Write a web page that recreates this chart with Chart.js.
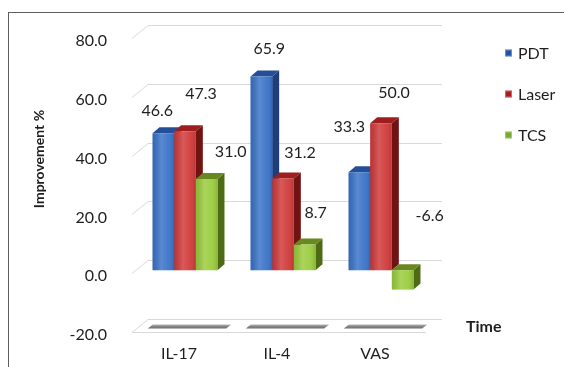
<!DOCTYPE html>
<html>
<head>
<meta charset="utf-8">
<script src="https://cdn.jsdelivr.net/npm/chart.js@4/dist/chart.umd.min.js"></script>
<style>
  html, body { margin: 0; padding: 0; background: #fff; }
  #wrap { position: relative; width: 564px; height: 367px; overflow: hidden; }
  #frame { position: absolute; left: 8px; top: 12px; width: 700px; height: 500px;
           border-left: 1.5px solid #5e5e5e; border-top: 1.5px solid #5e5e5e; }
  canvas { position: absolute; left: 0; top: 0; }
</style>
</head>
<body>
<div id="wrap">
  <div id="frame"></div>
  <canvas id="chart" width="564" height="367"></canvas>
</div>
<script>
// Improvement (%) per outcome measure and treatment
const categories = ['IL-17', 'IL-4', 'VAS'];
const seriesNames = ['PDT', 'Laser', 'TCS'];
const pdtValues = [46.6, 65.9, 33.3];
const laserValues = [47.3, 31.2, 50.0];
const tcsValues = [31.0, 8.7, -6.6];
const yMin = -20, yMax = 80, yStep = 20;

// face colours: front, side, top, legend swatch
const palette = [
  { front: '#3a73c8', side: '#1d3d7c', top: '#244f98', key: '#2154a6' },
  { front: '#d03a3a', side: '#711313', top: '#9e1d1d', key: '#a81c1c' },
  { front: '#9bcc3e', side: '#4d6b15', top: '#67891f', key: '#7aa830' }
];

// where each value label sits relative to the top of its column
const labelNudge = [
  [[-6, -22], [8, -28], [-10, -45]],
  [[16, -37], [17, -26], [13, -30]],
  [[24, -27], [11, -32], [27, -54]]
];

const FONT = 'Lato, "Open Sans", sans-serif';

const depth3d = {
  id: 'depth3d',
  beforeDatasetsDraw(chart, args, o) {
    const { ctx, chartArea: a, scales: { x, y } } = chart;
    ctx.save();
    // side wall diagonals + back wall gridlines
    ctx.strokeStyle = o.gridColor;
    ctx.lineWidth = 1;
    y.ticks.forEach(t => {
      const py = Math.round(y.getPixelForValue(t.value)) + 0.5;
      ctx.beginPath();
      ctx.moveTo(a.left + o.front[0], py + o.front[1]);
      ctx.lineTo(a.left + o.back[0], py + o.back[1]);
      ctx.lineTo(a.right + o.back[0], py + o.back[1]);
      ctx.stroke();
    });
    // floor front edge
    const fy = Math.round(y.getPixelForValue(y.min)) + 0.5;
    ctx.beginPath();
    ctx.moveTo(a.left + o.front[0], fy + o.front[1]);
    ctx.lineTo(a.right + o.front[0], fy + o.front[1]);
    ctx.stroke();

    // floor pads under each category
    const band = x.width / categories.length;
    categories.forEach((c, i) => {
      const cx = x.getPixelForValue(i) + o.padShift;
      const half = band * o.padRatio / 2;
      const yf = fy - 1, yb = fy - 5;
      const g = ctx.createLinearGradient(0, yb, 0, yf);
      g.addColorStop(0, '#b5b5b5');
      g.addColorStop(0.5, '#858585');
      g.addColorStop(1, '#6f6f6f');
      ctx.fillStyle = g;
      ctx.beginPath();
      ctx.moveTo(cx - half, yf);
      ctx.lineTo(cx - half + 5, yb);
      ctx.lineTo(cx + half + 5, yb);
      ctx.lineTo(cx + half, yf);
      ctx.closePath();
      ctx.fill();
    });

    // column sides and caps (fronts are drawn by the bar controller on top)
    chart.data.datasets.forEach((ds, di) => {
      const meta = chart.getDatasetMeta(di);
      const col = palette[di];
      meta.data.forEach(el => {
        const p = el.getProps(['x', 'y', 'base', 'width'], true);
        const l = p.x - p.width / 2, r = p.x + p.width / 2;
        const top = Math.min(p.y, p.base), bot = Math.max(p.y, p.base);
        const [dx, dy] = o.barDepth;
        ctx.fillStyle = col.side;
        ctx.beginPath();
        ctx.moveTo(r, top); ctx.lineTo(r + dx, top + dy);
        ctx.lineTo(r + dx, bot + dy); ctx.lineTo(r, bot);
        ctx.closePath(); ctx.fill();
        ctx.fillStyle = col.top;
        ctx.beginPath();
        ctx.moveTo(l, top); ctx.lineTo(l + dx, top + dy);
        ctx.lineTo(r + dx, top + dy); ctx.lineTo(r, top);
        ctx.closePath(); ctx.fill();
      });
    });
    ctx.restore();
  },
  afterDatasetsDraw(chart, args, o) {
    const { ctx } = chart;
    ctx.save();
    // sheen across each column front
    chart.data.datasets.forEach((ds, di) => {
      chart.getDatasetMeta(di).data.forEach(el => {
        const p = el.getProps(['x', 'y', 'base', 'width'], true);
        const l = p.x - p.width / 2;
        const g = ctx.createLinearGradient(l, 0, l + p.width, 0);
        g.addColorStop(0, 'rgba(0,0,0,0.10)');
        g.addColorStop(0.4, 'rgba(255,255,255,0.16)');
        g.addColorStop(0.75, 'rgba(255,255,255,0.05)');
        g.addColorStop(1, 'rgba(0,0,0,0.12)');
        ctx.fillStyle = g;
        const top = Math.min(p.y, p.base), bot = Math.max(p.y, p.base);
        ctx.fillRect(l, top, p.width, bot - top);
      });
    });
    // value labels
    ctx.fillStyle = '#1e1e1e';
    ctx.font = '16px ' + FONT;
    ctx.textAlign = 'center';
    ctx.textBaseline = 'middle';
    chart.data.datasets.forEach((ds, di) => {
      chart.getDatasetMeta(di).data.forEach((el, i) => {
        const p = el.getProps(['x', 'y', 'base'], true);
        const n = labelNudge[di][i];
        ctx.fillText(ds.data[i].toFixed(1), p.x + n[0], Math.min(p.y, p.base) + n[1]);
      });
    });
    ctx.restore();
  },
  afterDraw(chart, args, o) {
    const { ctx, chartArea: a, scales: { y } } = chart;
    ctx.save();
    // axis captions
    ctx.fillStyle = '#1e1e1e';
    ctx.textAlign = 'center';
    ctx.textBaseline = 'middle';
    ctx.font = 'bold 14px ' + FONT;
    ctx.translate(o.yTitle[0], o.yTitle[1]);
    ctx.rotate(-Math.PI / 2);
    ctx.fillText('Improvement %', 0, 0);
    ctx.restore();
    ctx.save();
    ctx.fillStyle = '#1e1e1e';
    ctx.font = 'bold 16px ' + FONT;
    ctx.textAlign = 'left';
    ctx.textBaseline = 'middle';
    ctx.fillText('Time', a.right + o.xTitle[0], y.getPixelForValue(y.min) + o.xTitle[1]);
    // legend
    ctx.font = '16px ' + FONT;
    chart.data.datasets.forEach((ds, di) => {
      const ly = o.legend.y + di * o.legend.step;
      ctx.fillStyle = palette[di].key;
      ctx.fillRect(o.legend.x, ly - 3.5, 7, 7);
      ctx.strokeStyle = 'rgba(255,255,255,0.35)';
      ctx.lineWidth = 1;
      ctx.strokeRect(o.legend.x + 0.5, ly - 3, 6, 6);
      ctx.fillStyle = '#1e1e1e';
      ctx.fillText(ds.label, o.legend.x + 13, ly + 1);
    });
    ctx.restore();
  }
};

const valueSets = [pdtValues, laserValues, tcsValues];

new Chart(document.getElementById('chart'), {
  type: 'bar',
  data: {
    labels: categories,
    datasets: seriesNames.map((name, i) => ({
      label: name,
      data: valueSets[i],
      backgroundColor: palette[i].front,
      borderWidth: 0,
      categoryPercentage: 0.663,
      barPercentage: 1.0
    }))
  },
  options: {
    responsive: false,
    animation: false,
    layout: { padding: { left: 0, right: 134, top: 35, bottom: 0 } },
    scales: {
      x: {
        grid: { display: false },
        border: { display: false },
        ticks: {
          font: { family: FONT, size: 16 },
          color: '#1e1e1e',
          padding: 7,
          labelOffset: -6,
          maxRotation: 0
        },
        afterFit: s => { s.height = 38; }
      },
      y: {
        min: yMin,
        max: yMax,
        grid: { display: false },
        border: { display: false },
        ticks: {
          stepSize: yStep,
          font: { family: FONT, size: 16 },
          color: '#1e1e1e',
          padding: 21,
          labelOffset: 6,
          callback: v => v.toFixed(1)
        },
        afterFit: s => { s.width = 136; }
      }
    },
    plugins: {
      legend: { display: false },
      tooltip: { enabled: false },
      depth3d: {
        gridColor: '#d9d9d9',
        front: [-4, 3],
        back: [12, -10],
        barDepth: [7, -6],
        padRatio: 0.8,
        padShift: 2,
        yTitle: [39, 159],
        xTitle: [36, -2],
        legend: { x: 505, y: 53, step: 41 }
      }
    }
  },
  plugins: [depth3d]
});
</script>
</body>
</html>
